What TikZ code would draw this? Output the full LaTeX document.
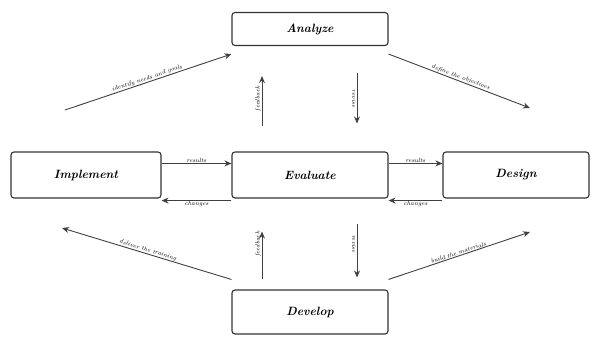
\documentclass[tikz,border=0pt]{standalone}
\usetikzlibrary{arrows.meta}
\begin{document}
\begin{tikzpicture}[x=1pt,y=-1pt,
  stage/.style={draw=black!80, line width=1.1pt, rounded corners=3pt, fill=white,
                inner sep=0pt, font=\bfseries\itshape\large},
  flow/.style={-{Stealth[length=7pt,width=6pt]}, draw=black!75, line width=0.9pt},
  tag/.style={font=\fontsize{6}{7}\selectfont\itshape, sloped, above, inner sep=0.6pt}]
\useasboundingbox (0,0) rectangle (592,341);

% the five stages
\node[stage, minimum width=156pt, minimum height=33pt] (ana) at (310,29)  {Analyze};
\node[stage, minimum width=150pt, minimum height=46pt] (imp) at (86,175)  {Implement};
\node[stage, minimum width=156pt, minimum height=46pt] (eva) at (310,175) {Evaluate};
\node[stage, minimum width=146pt, minimum height=46pt] (des) at (516,175) {Design};
\node[stage, minimum width=156pt, minimum height=44pt] (dev) at (310,312) {Develop};

% free ends of the diagonal arrows
\coordinate (tl) at (65,110);
\coordinate (tr) at (530,108);
\coordinate (bl) at (62,228);
\coordinate (br) at (530,232);

% diagonal arrows
\draw[flow] (tl) -- node[tag] {identify needs and goals} ([yshift=-8pt]ana.south west);
\draw[flow] ([yshift=-8pt]ana.south east) -- node[tag] {define the objectives} (tr);
\draw[flow] ([yshift=10pt]dev.north west) -- node[tag] {deliver the training} (bl);
\draw[flow] ([yshift=10pt]dev.north east) -- node[tag] {build the materials} (br);

% vertical arrows, upper pair
\draw[flow, shorten <=25pt, shorten >=30pt] ([xshift=-48pt]eva.north) -- node[tag] {feedback} ([xshift=-48pt]ana.south);
\draw[flow, shorten <=27pt, shorten >=28pt] ([xshift=47pt]ana.south) -- node[tag, below] {revise} ([xshift=47pt]eva.north);

% vertical arrows, lower pair
\draw[flow, shorten <=10pt, shorten >=33pt] ([xshift=-48pt]dev.north) -- node[tag] {feedback} ([xshift=-48pt]eva.south);
\draw[flow, shorten <=25pt, shorten >=12pt] ([xshift=47pt]eva.south) -- node[tag, below] {revise} ([xshift=47pt]dev.north);

% horizontal arrows
\draw[flow] ([yshift=-12pt]imp.north east) -- node[tag] {results} ([yshift=-12pt]eva.north west);
\draw[flow] ([yshift=-2pt]eva.south west) -- node[tag, below] {changes} ([yshift=-2pt]imp.south east);
\draw[flow] ([yshift=-12pt]eva.north east) -- node[tag] {results} ([yshift=-12pt]des.north west);
\draw[flow] ([yshift=-2pt]des.south west) -- node[tag, below] {changes} ([yshift=-2pt]eva.south east);
\end{tikzpicture}
\end{document}
